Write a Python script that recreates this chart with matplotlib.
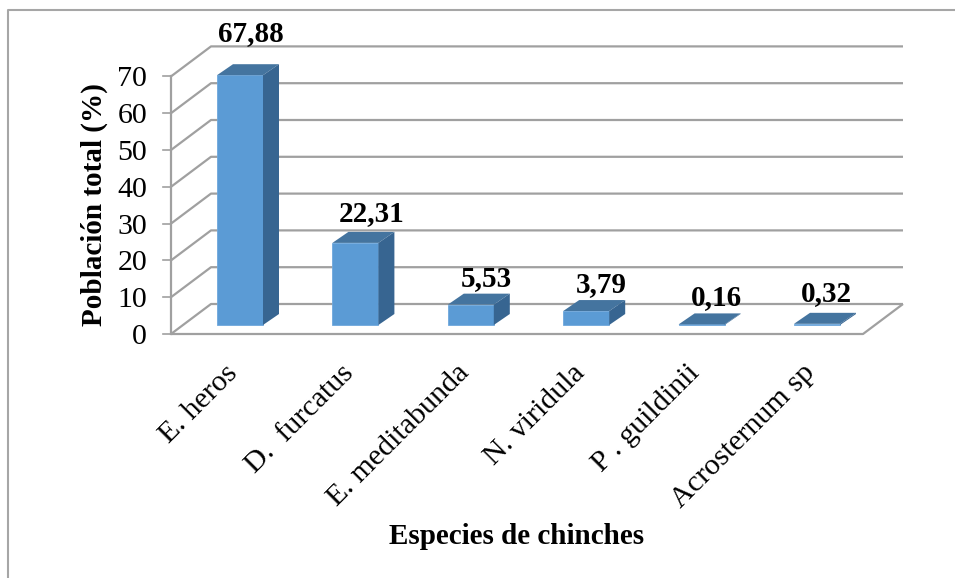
import matplotlib
matplotlib.use("Agg")
import matplotlib.pyplot as plt
from matplotlib.lines import Line2D
from matplotlib.patches import Polygon

especies = ["E. heros", "D.  furcatus", "E. meditabunda", "N. viridula", "P . guildinii", "Acrosternum sp"]
poblacion = [67.88, 22.31, 5.53, 3.79, 0.16, 0.32]
etiquetas = ["67,88", "22,31", "5,53", "3,79", "0,16", "0,32"]
y_ticks = [0, 10, 20, 30, 40, 50, 60, 70]

W, H = 955, 578
X0, PX_CAT = 240.0, 115.4   # pixel of the first category, pixels per category
Y0, PX_VAL = 334.0, 3.68    # pixel of value 0 on the front plane, pixels per unit

# the fake 3D depth, in data units
wall_dx, wall_dy = 40 / PX_CAT, 30 / PX_VAL
bar_dx, bar_dy = 16 / PX_CAT, 11 / PX_VAL
base = 9 / PX_VAL
bar_w = 46 / PX_CAT
left = (171 - X0) / PX_CAT
right = (863 - X0) / PX_CAT

GRID = "#a0a0a0"
FRONT, TOP, SIDE = "#5b9bd5", "#44749f", "#376591"
SERIF = "Liberation Serif"

fig = plt.figure(figsize=(W / 100, H / 100), dpi=100)
ax = fig.add_axes([0, 0, 1, 1])
ax.set_xlim(-X0 / PX_CAT, (W - X0) / PX_CAT)
ax.set_ylim((Y0 - H) / PX_VAL, Y0 / PX_VAL)
ax.axis("off")

# outer chart border
fig.add_artist(Line2D([8 / W, 8 / W, 1], [0, 1 - 10 / H, 1 - 10 / H], color="#a6a6a6", lw=1.5))

# walls: diagonal + back line for every tick, then the tick itself
for t in y_ticks:
    ax.plot([left, left + wall_dx, right + wall_dx], [t, t + wall_dy, t + wall_dy], color=GRID, lw=1.6,
            solid_capstyle="butt", zorder=1)
    ax.plot([left - 8 / PX_CAT, left], [t, t], color=GRID, lw=1.2, zorder=1)
    ax.text(left - 24 / PX_CAT, t, str(t), family=SERIF, fontsize=21.5, ha="right", va="center_baseline")
ax.plot([left, left], [0, 70], color=GRID, lw=1.6, zorder=1)
ax.plot([left, right, right + wall_dx], [0, 0, wall_dy], color=GRID, lw=1.6, solid_capstyle="butt", zorder=1)

# bars
xs = list(range(len(poblacion)))
ax.bar(xs, poblacion, bar_w, bottom=base, color=FRONT, edgecolor="#6fa8dc", linewidth=0.6, zorder=3)
for x, v in zip(xs, poblacion):
    l, r, b, t = x - bar_w / 2, x + bar_w / 2, base, base + v
    ax.add_patch(Polygon([(l, t), (r, t), (r + bar_dx, t + bar_dy), (l + bar_dx, t + bar_dy)], color=TOP, lw=0, zorder=3))
    ax.add_patch(Polygon([(r, b), (r + bar_dx, b + bar_dy), (r + bar_dx, t + bar_dy), (r, t)], color=SIDE, lw=0, zorder=3))

# value labels, nudged by hand in pixels from the top of each bar
nudges = [(11, 28), (16, 16), (16, 13), (15, 13), (15, 13), (9, 17)]
for x, v, s, (nx, ny) in zip(xs, poblacion, etiquetas, nudges):
    ax.annotate(s, (x, base + v), xytext=(nx * 0.72, ny * 0.72), textcoords="offset points",
                family=SERIF, fontsize=21, fontweight="bold", ha="center", va="bottom", zorder=5)

# category labels
for x, s in zip(xs, especies):
    ax.text(x - 15 / PX_CAT, (Y0 - 360) / PX_VAL, s, family=SERIF, fontsize=21.6, rotation=45,
            rotation_mode="anchor", ha="right", va="top")

ax.text((94 - X0) / PX_CAT, (Y0 - 205) / PX_VAL, "Población total (%)", family=SERIF, fontsize=21,
        fontweight="bold", rotation=90, ha="center", va="center")
ax.text((516.5 - X0) / PX_CAT, (Y0 - 537) / PX_VAL, "Especies de chinches", family=SERIF, fontsize=21,
        fontweight="bold", ha="center", va="center")

fig.savefig("out.png", dpi=100)
